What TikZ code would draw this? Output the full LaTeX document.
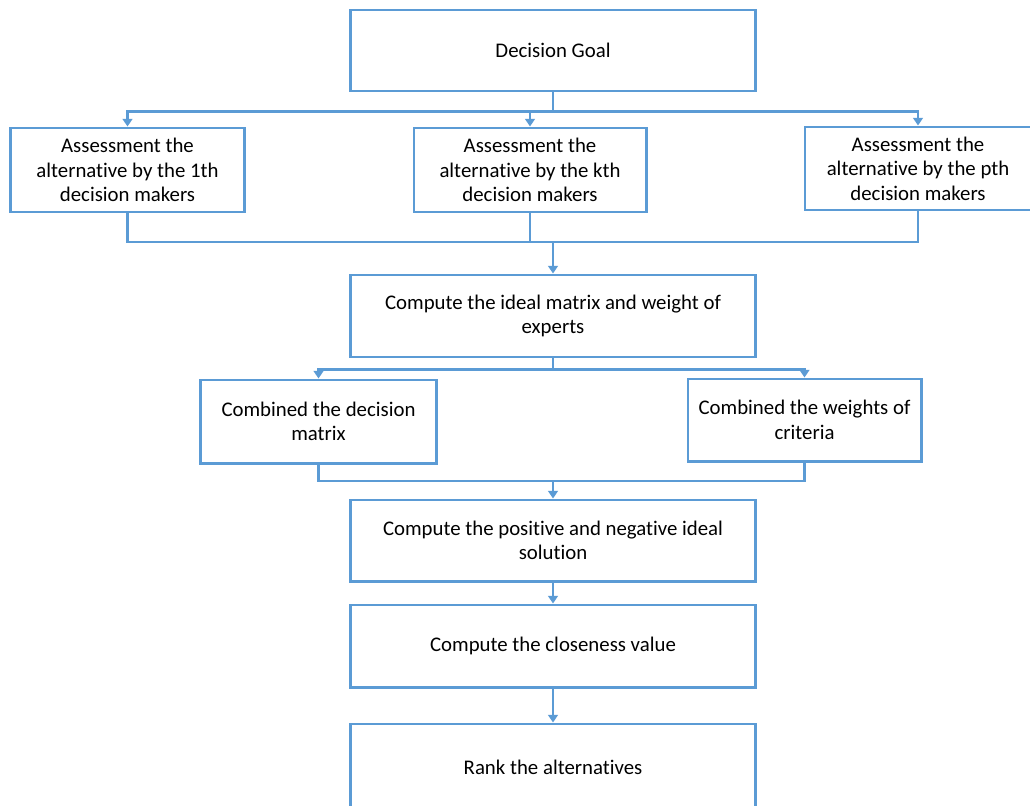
\documentclass[tikz,border=0pt]{standalone}
\usepackage{fontspec}
\setmainfont{Carlito}[Ligatures=NoCommon]
\usetikzlibrary{arrows.meta}
\definecolor{flowblue}{HTML}{5B9BD5}

\begin{document}
\begin{tikzpicture}[x=0.025cm, y=-0.025cm,
  box/.style={draw=flowblue, line width=2.1pt, align=center, inner sep=0pt,
    font=\fontsize{14.8}{17.4}\selectfont},
  link/.style={flowblue, line width=2.1pt},
  arr/.style={link, -{Triangle[length=5.5pt, width=7pt]}}]
  \useasboundingbox (0,0) rectangle (1030,805);
  \node[box, minimum width=10.1cm, minimum height=2.025cm] (goal) at (553,50.5) {Decision Goal};
  \node[box, minimum width=5.825cm, minimum height=2.1cm] (dm1) at (127.5,170) {Assessment the\\alternative by the 1th\\decision makers};
  \node[box, minimum width=5.8cm, minimum height=2.1cm] (dmk) at (530,170) {Assessment the\\alternative by the kth\\decision makers};
  \node[box, minimum width=5.65cm, minimum height=2.075cm] (dmp) at (918,168.5) {Assessment the\\alternative by the pth\\decision makers};
  \node[box, minimum width=10.1cm, minimum height=2.05cm] (ideal) at (553,316) {Compute the ideal matrix and weight of\\experts};
  \node[box, minimum width=5.875cm, minimum height=2.075cm] (cmat) at (318.5,421.5) {Combined the decision\\matrix};
  \node[box, minimum width=5.825cm, minimum height=2.05cm] (cwt) at (804.5,420) {Combined the weights of\\criteria};
  \node[box, minimum width=10.1cm, minimum height=2.025cm] (pnis) at (553,540.5) {Compute the positive and negative ideal\\solution};
  \node[box, minimum width=10.1cm, minimum height=2.05cm] (close) at (553,646) {Compute the closeness value};
  \node[box, minimum width=10.1cm, minimum height=2.15cm] (rank) at (553,767) {Rank the alternatives};

  % goal to the decision makers
  \draw[link] (goal.south) -- ++(0,19) coordinate (gbus);
  \draw[arr] (gbus) -| (dm1.north);
  \draw[arr] (gbus) -| (dmk.north);
  \draw[arr] (gbus) -| (dmp.north);

  % decision makers to ideal matrix
  \coordinate (abus) at (553,242);
  \draw[link] (dm1.south) |- (abus);
  \draw[link] (dmp.south) |- (abus);
  \draw[link] (dmk.south) |- (abus);
  \draw[arr] (abus) -- (ideal.north);

  % ideal matrix to combined
  \draw[link] (ideal.south) -- ++(0,11) coordinate (ibus);
  \draw[arr] (ibus) -| (cmat.north);
  \draw[arr] (ibus) -| (cwt.north);

  \coordinate (cbus) at (553,481);
  \draw[link] (cmat.south) |- (cbus);
  \draw[link] (cwt.south) |- (cbus);
  \draw[arr] (cbus) -- (pnis.north);

  \draw[arr] (pnis) -- (close);
  \draw[arr] (close) -- (rank);
\end{tikzpicture}
\end{document}
